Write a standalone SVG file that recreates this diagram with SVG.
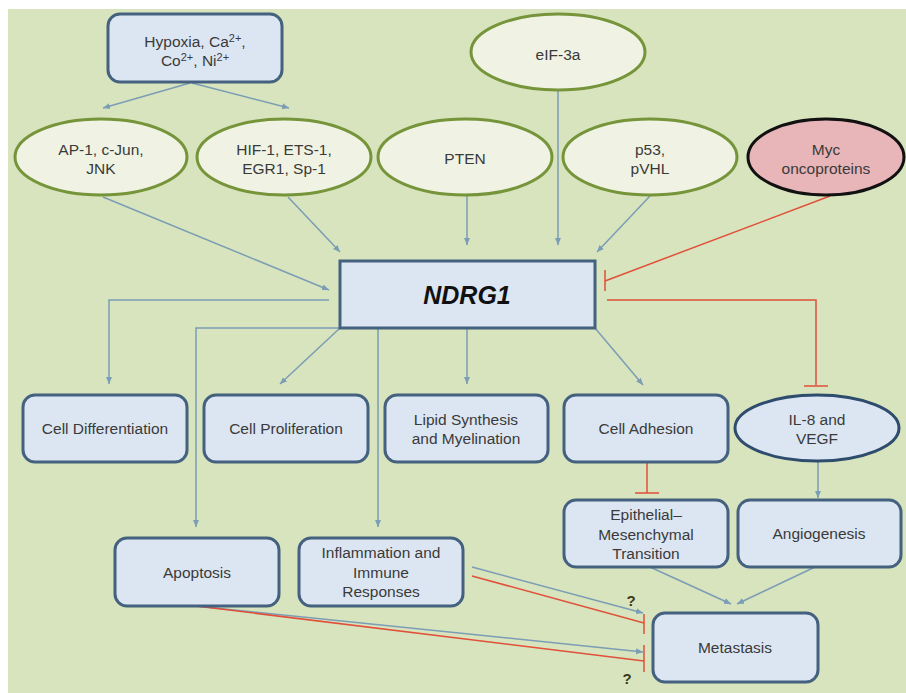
<svg xmlns="http://www.w3.org/2000/svg" width="906" height="693" viewBox="0 0 906 693">
<defs>
<marker id="arr" markerWidth="8" markerHeight="8" refX="7" refY="4" orient="auto" markerUnits="userSpaceOnUse">
<path d="M0,1 L7,4 L0,7 Z" fill="#7b9db5"/>
</marker>
<style>
.bg{fill:#d8e4bd}
.box{fill:#dce6f2;stroke:#44617f;stroke-width:3}
.ell{fill:#f0f3e3;stroke:#76943a;stroke-width:3}
.t{font-family:"Liberation Sans",Arial,sans-serif;font-size:15.5px;fill:#3a3a3a;text-anchor:middle}
.b{fill:none;stroke:#7b9db5;stroke-width:1.5}
.r{fill:none;stroke:#e0503a;stroke-width:1.5}
.q{font-family:"Liberation Sans",Arial,sans-serif;font-size:15px;font-weight:bold;fill:#3b3a1e;text-anchor:middle}
.sup{font-size:11px}
</style>
</defs>
<rect x="0" y="0" width="906" height="693" fill="#ffffff"/>
<rect class="bg" x="8" y="9" width="898" height="684"/>

<g id="connectors">
<path class="b" d="M190,83 L103,108" marker-end="url(#arr)"/>
<path class="b" d="M192,83 L289,108" marker-end="url(#arr)"/>
<path class="b" d="M103,197 L329,290" marker-end="url(#arr)"/>
<path class="b" d="M288,197 L340,252" marker-end="url(#arr)"/>
<path class="b" d="M467,196 L467,245" marker-end="url(#arr)"/>
<path class="b" d="M558,91 L558,245" marker-end="url(#arr)"/>
<path class="b" d="M650,196 L597,252" marker-end="url(#arr)"/>
<path class="r" d="M830,196 L605,281"/>
<path class="r" d="M605,270 L605,291"/>
<path class="r" d="M607,300 L816,300 L816,385"/>
<path class="r" d="M804,386 L828,386"/>
<path class="b" d="M329,300 L109,300 L109,384" marker-end="url(#arr)"/>
<path class="b" d="M340,328 L196,328 L196,527" marker-end="url(#arr)"/>
<path class="b" d="M378,328 L378,527" marker-end="url(#arr)"/>
<path class="b" d="M340,328 L280,384" marker-end="url(#arr)"/>
<path class="b" d="M467,328 L467,384" marker-end="url(#arr)"/>
<path class="b" d="M595,328 L643,385" marker-end="url(#arr)"/>
<path class="r" d="M647,462 L647,493"/>
<path class="r" d="M635,493 L659,493"/>
<path class="b" d="M818,461 L818,498" marker-end="url(#arr)"/>
<path class="b" d="M650,567 L731,604" marker-end="url(#arr)"/>
<path class="b" d="M815,567 L737,604" marker-end="url(#arr)"/>
<path class="b" d="M472,567 L643,613" marker-end="url(#arr)"/>
<path class="r" d="M472,576 L644,623"/>
<path class="r" d="M644,614 L644,634"/>
<path class="b" d="M196,606 L643,652" marker-end="url(#arr)"/>
<path class="r" d="M196,606 L644,661"/>
<path class="r" d="M644,645 L644,672"/>
</g>

<g id="hypoxia"><rect class="box" x="108" y="14" width="174" height="68" rx="12"/>
<text class="t" x="195" y="47">Hypoxia, Ca<tspan class="sup" dy="-5">2+</tspan><tspan dy="5">,</tspan></text>
<text class="t" x="195" y="66">Co<tspan class="sup" dy="-5">2+</tspan><tspan dy="5">, Ni</tspan><tspan class="sup" dy="-5">2+</tspan></text></g>

<g id="eif3a"><ellipse class="ell" cx="558" cy="52" rx="87" ry="38"/><text class="t" x="558" y="60">eIF-3a</text></g>
<g id="ap1"><ellipse class="ell" cx="101" cy="157" rx="86" ry="38"/><text class="t" x="101" y="155">AP-1, c-Jun,</text><text class="t" x="101" y="174">JNK</text></g>
<g id="hif1"><ellipse class="ell" cx="284" cy="157" rx="87" ry="38"/><text class="t" x="284" y="155">HIF-1, ETS-1,</text><text class="t" x="284" y="174">EGR1, Sp-1</text></g>
<g id="pten"><ellipse class="ell" cx="465" cy="157" rx="87" ry="38"/><text class="t" x="465" y="164">PTEN</text></g>
<g id="p53"><ellipse class="ell" cx="650" cy="157" rx="87" ry="38"/><text class="t" x="650" y="155">p53,</text><text class="t" x="650" y="174">pVHL</text></g>
<g id="myc"><ellipse cx="826" cy="157" rx="78" ry="38" fill="#e8b5b8" stroke="#111" stroke-width="3"/><text class="t" x="826" y="155">Myc</text><text class="t" x="826" y="174">oncoproteins</text></g>

<g id="ndrg1"><rect class="box" x="340" y="261" width="255" height="67"/>
<text x="467" y="304" font-family="Liberation Sans,Arial,sans-serif" font-size="25" font-weight="bold" font-style="italic" fill="#111" text-anchor="middle">NDRG1</text></g>

<g id="celldiff"><rect class="box" x="23" y="395" width="164" height="67" rx="12"/><text class="t" x="105" y="434">Cell Differentiation</text></g>
<g id="cellprol"><rect class="box" x="204" y="395" width="164" height="67" rx="12"/><text class="t" x="286" y="434">Cell Proliferation</text></g>
<g id="lipid"><rect class="box" x="385" y="395" width="163" height="67" rx="12"/><text class="t" x="466" y="425">Lipid Synthesis</text><text class="t" x="466" y="444">and Myelination</text></g>
<g id="celladh"><rect class="box" x="564" y="395" width="164" height="67" rx="12"/><text class="t" x="646" y="434">Cell Adhesion</text></g>
<g id="il8"><ellipse cx="817" cy="428" rx="82" ry="33" fill="#dce6f2" stroke="#2e4c6e" stroke-width="3"/><text class="t" x="817" y="425">IL-8 and</text><text class="t" x="817" y="444">VEGF</text></g>

<g id="emt"><rect class="box" x="564" y="500" width="164" height="67" rx="12"/><text class="t" x="646" y="520">Epithelial–</text><text class="t" x="646" y="540">Mesenchymal</text><text class="t" x="646" y="559">Transition</text></g>
<g id="angio"><rect class="box" x="738" y="500" width="163" height="67" rx="12"/><text class="t" x="819" y="539">Angiogenesis</text></g>
<g id="apoptosis"><rect class="box" x="115" y="538" width="164" height="68" rx="12"/><text class="t" x="197" y="578">Apoptosis</text></g>
<g id="inflam"><rect class="box" x="299" y="538" width="164" height="68" rx="12"/><text class="t" x="381" y="558">Inflammation and</text><text class="t" x="381" y="578">Immune</text><text class="t" x="381" y="597">Responses</text></g>
<g id="metastasis"><rect class="box" x="653" y="613" width="165" height="69" rx="12"/><text class="t" x="735" y="653">Metastasis</text></g>

<text class="q" x="631" y="606">?</text>
<text class="q" x="627" y="684">?</text>
</svg>
